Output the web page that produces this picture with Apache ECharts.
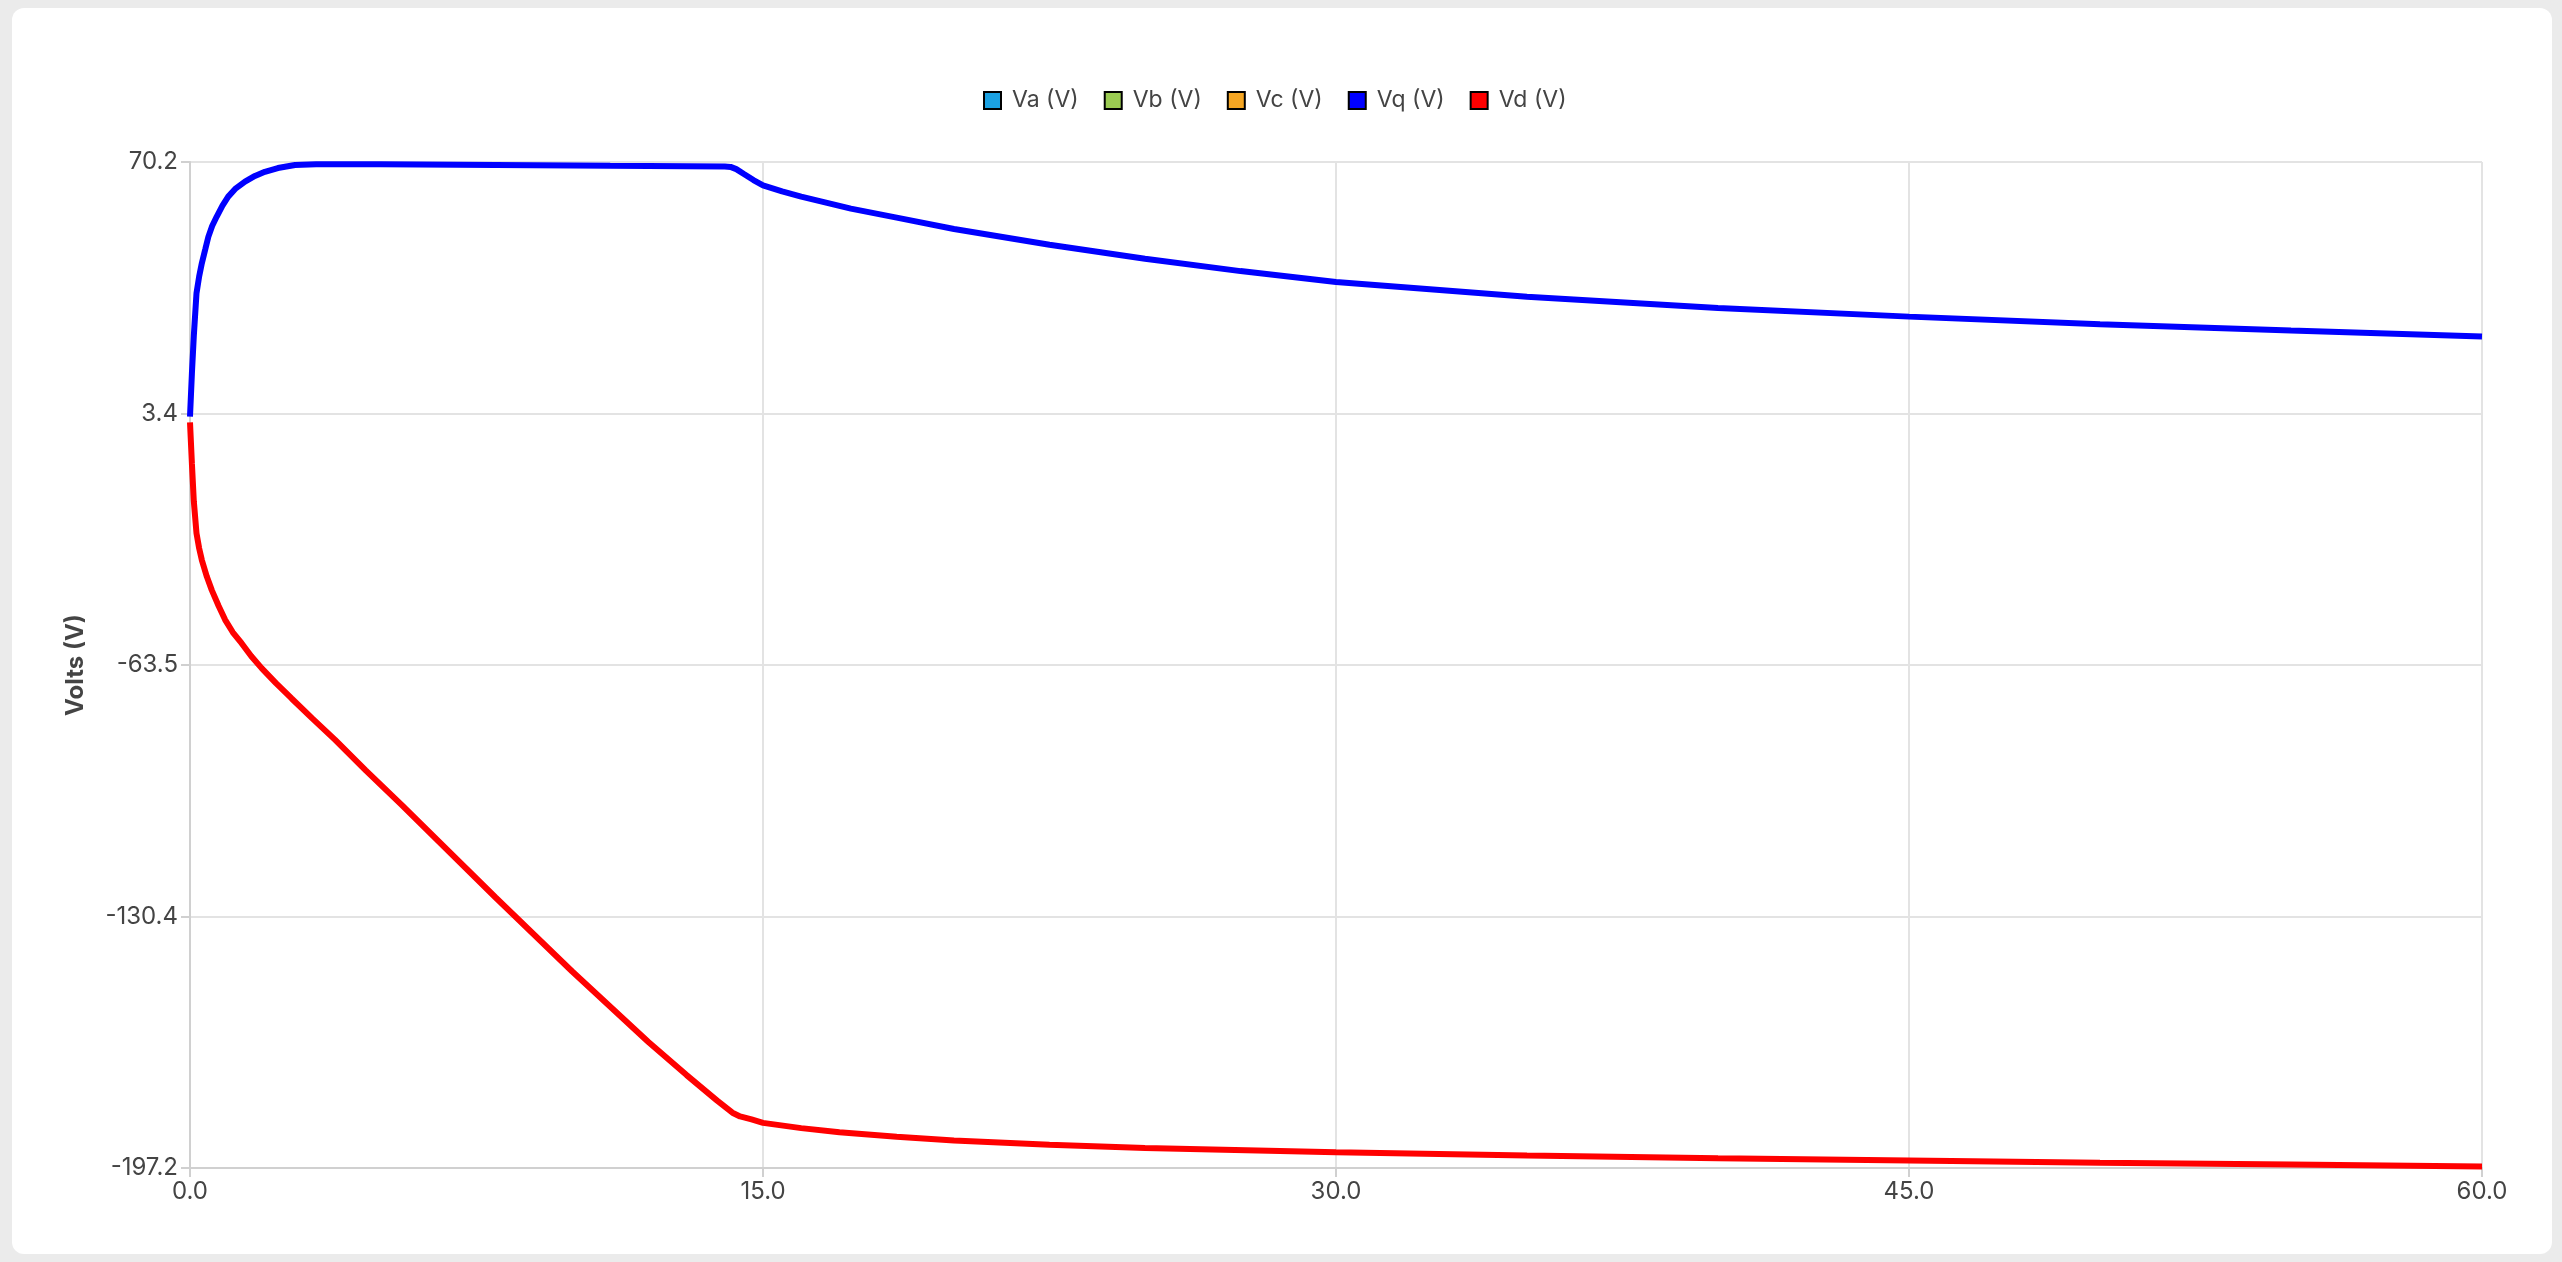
<!DOCTYPE html>
<html>
<head>
<meta charset="utf-8">
<title>Volts</title>
<script src="https://cdn.jsdelivr.net/npm/echarts@6/dist/echarts.min.js"></script>
<style>
  html, body {
    margin: 0;
    padding: 0;
    width: 2562px;
    height: 1262px;
    background: #ebebeb;
    overflow: hidden;
  }
  .card {
    position: absolute;
    left: 12px;
    top: 8px;
    width: 2540px;
    height: 1246px;
    background: #fff;
    border-radius: 12px;
  }
  #chart {
    width: 100%;
    height: 100%;
  }
</style>
</head>
<body>
<div class="card">
  <div id="chart"></div>
</div>
<script>
// series names and colours
const seriesNames = ['Va (V)', 'Vb (V)', 'Vc (V)', 'Vq (V)', 'Vd (V)']
const seriesColors = ['#1ba1e2', '#9bcb52', '#f5a623', '#0000ff', '#ff0000']

// axis ticks
const xTicks = [0, 15, 30, 45, 60]
const yTickLabels = ['-197.2', '-130.4', '-63.5', '3.4', '70.2']

// phase voltages (nothing plotted in this view)
const vaTime = []
const vaValues = []
const vbTime = []
const vbValues = []
const vcTime = []
const vcValues = []

// Vq (V)
const vqTime = [0, 0.05, 0.1, 0.17, 0.24, 0.31, 0.4, 0.48, 0.58, 0.7, 0.85, 1.0, 1.2, 1.44, 1.7, 1.96, 2.3, 2.75, 3.3,
  5, 8, 11, 13, 14.0, 14.15, 14.3, 14.5, 14.75, 15, 15.5, 16, 17.3, 18.5, 20, 22.5, 25, 27.5, 30, 35, 40, 45, 50, 55, 60]
const vqValues = [2.5, 14.0, 24.0, 35.3, 39.8, 43.3, 47.0, 50.3, 53.2, 55.7, 58.6, 61.0, 63.2, 65.0, 66.5, 67.6, 68.6, 69.4, 69.6,
  69.6, 69.4, 69.2, 69.1, 69.0, 68.9, 68.3, 67.0, 65.4, 64.0, 62.4, 61.0, 57.8, 55.4, 52.4, 48.2, 44.5, 41.2, 38.3, 34.4, 31.4, 29.1, 27.1, 25.4, 23.8]

// Vd (V)
const vdTime = [0, 0.05, 0.1, 0.17, 0.24, 0.31, 0.44, 0.57, 0.75, 0.92, 1.12, 1.35, 1.6, 1.88, 2.25, 2.66, 3.2, 3.8, 4.6, 5.54,
  8, 10, 12, 13, 13.8, 14.2, 14.4, 14.7, 15, 16, 17, 18.5, 20, 22.5, 25, 30, 35, 40, 45, 50, 55, 60]
const vdValues = [1.0, -10.0, -20.0, -28.5, -32.5, -35.6, -40.0, -43.6, -47.8, -51.5, -54.8, -57.7, -61.1, -64.4, -68.3, -72.4, -77.7, -83.4, -91.5, -100.7,
  -125.3, -144.9, -163.7, -172.5, -179.3, -182.5, -183.5, -184.3, -185.2, -186.6, -187.7, -188.9, -189.9, -191.0, -191.9, -193.0, -193.9, -194.6, -195.2, -195.8, -196.3, -196.8]

const pairs = (ts, vs) => ts.map((t, i) => [t, vs[i]])
const seriesData = [
  pairs(vaTime, vaValues),
  pairs(vbTime, vbValues),
  pairs(vcTime, vcValues),
  pairs(vqTime, vqValues),
  pairs(vdTime, vdValues)
]

const textColor = '#444'
const fontFamily = 'Inter, "Noto Sans", sans-serif'
const axisGrey = '#d0d0d0'
const gridGrey = '#e3e3e3'

const chart = echarts.init(document.getElementById('chart'))
chart.setOption({
  animation: false,
  textStyle: { fontFamily: fontFamily },
  legend: {
    top: 76,
    left: 966,
    icon: 'rect',
    itemWidth: 17,
    itemHeight: 17,
    itemGap: 25,
    itemStyle: { borderColor: '#000', borderWidth: 2 },
    textStyle: { color: textColor, fontSize: 23, padding: [0, 0, 0, 6] },
    data: seriesNames
  },
  grid: {
    left: 178,
    right: 70,
    top: 154,
    bottom: 86
  },
  xAxis: {
    type: 'value',
    min: xTicks[0],
    max: xTicks[xTicks.length - 1],
    interval: 15,
    axisLine: { show: true, onZero: false, lineStyle: { color: axisGrey, width: 2 } },
    axisTick: { show: true, length: 9, lineStyle: { color: axisGrey, width: 2 } },
    axisLabel: {
      color: textColor,
      fontSize: 24,
      margin: 12,
      formatter: v => v.toFixed(1)
    },
    splitLine: { show: true, lineStyle: { color: gridGrey, width: 2 } }
  },
  yAxis: {
    type: 'value',
    min: -197.2,
    max: 70.2,
    interval: 66.85,
    name: 'Volts (V)',
    nameLocation: 'middle',
    nameGap: 102,
    nameTextStyle: { color: textColor, fontSize: 24, fontWeight: 'bold' },
    axisLine: { show: true, onZero: false, lineStyle: { color: axisGrey, width: 2 } },
    axisTick: { show: true, length: 9, lineStyle: { color: axisGrey, width: 2 } },
    axisLabel: {
      color: textColor,
      fontSize: 24,
      margin: 12,
      formatter: (v, i) => yTickLabels[i] !== undefined ? yTickLabels[i] : v.toFixed(1)
    },
    splitLine: { show: true, lineStyle: { color: gridGrey, width: 2 } }
  },
  series: seriesNames.map((name, i) => ({
    name: name,
    type: 'line',
    data: seriesData[i],
    showSymbol: false,
    itemStyle: { color: seriesColors[i] },
    lineStyle: { color: seriesColors[i], width: 6 }
  }))
})
window.addEventListener('resize', function() {
  chart.resize()
})
</script>
</body>
</html>
